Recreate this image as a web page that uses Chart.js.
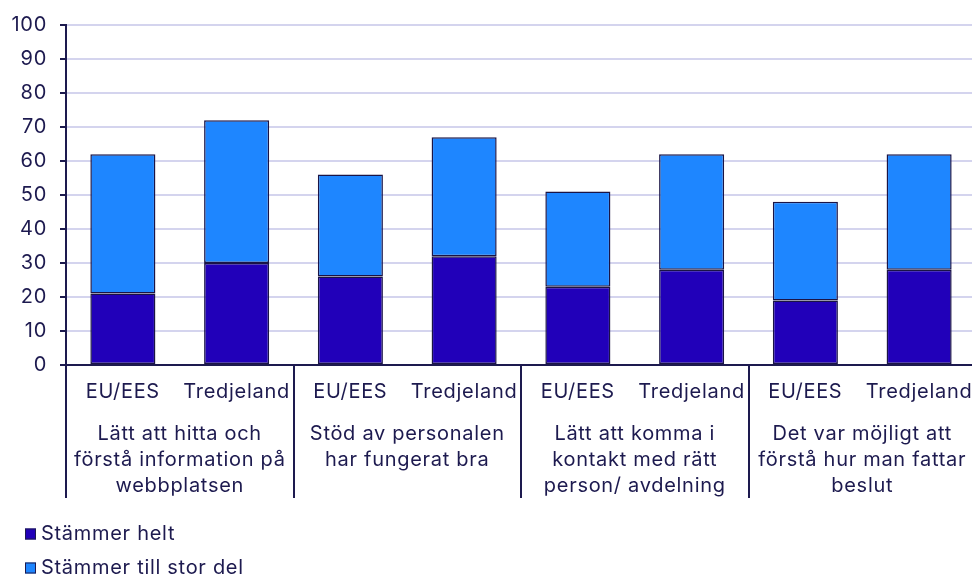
<!DOCTYPE html>
<html>
<head>
<meta charset="utf-8">
<script src="https://cdn.jsdelivr.net/npm/chart.js@4"></script>
<style>
  html, body { margin: 0; padding: 0; background: #fff; overflow: hidden; }
  #wrap { position: relative; width: 976px; height: 576px; }
</style>
</head>
<body>
<div id="wrap"><canvas id="chart"></canvas></div>
<script>
// data
const categories = ['EU/EES', 'Tredjeland', 'EU/EES', 'Tredjeland', 'EU/EES', 'Tredjeland', 'EU/EES', 'Tredjeland'];
const groups = [
  ['Lätt att hitta och', 'förstå information på', 'webbplatsen'],
  ['Stöd av personalen', 'har fungerat bra'],
  ['Lätt att komma i', 'kontakt med rätt', 'person/ avdelning'],
  ['Det var möjligt att', 'förstå hur man fattar', 'beslut']
];
const stammerHelt = [21, 30, 26, 32, 23, 28, 19, 28];
const stammerStorDel = [41, 42, 30, 35, 28, 34, 29, 34];
const yTicks = [0, 10, 20, 30, 40, 50, 60, 70, 80, 90, 100];

const textColor = '#1d1a4f';
const axisColor = '#1d1a4f';
const font = 'Inter';
const fontSize = 20;
const spacing = '0.7px';

Chart.defaults.font.family = font;
Chart.defaults.font.size = fontSize;
Chart.defaults.color = textColor;

// group labels, separators and legend
const extras = {
  id: 'extras',
  beforeDraw(chart) {
    chart.ctx.letterSpacing = spacing;
  },
  afterDraw(chart) {
    const c = chart.ctx;
    const x = chart.scales.x;
    const area = chart.chartArea;
    c.save();
    c.letterSpacing = spacing;
    c.strokeStyle = axisColor;
    c.lineWidth = 2;
    c.fillStyle = textColor;
    c.font = fontSize + 'px ' + font;
    c.textAlign = 'center';
    c.textBaseline = 'middle';
    groups.forEach((lines, g) => {
      const i = g * 2;
      const left = i === 0 ? area.left : (x.getPixelForValue(i - 1) + x.getPixelForValue(i)) / 2;
      c.beginPath();
      c.moveTo(Math.round(left), area.bottom);
      c.lineTo(Math.round(left), 498);
      c.stroke();
      const cx = (x.getPixelForValue(i) + x.getPixelForValue(i + 1)) / 2;
      lines.forEach((t, k) => c.fillText(t, cx, 434 + k * 26));
    });
    // legend
    c.textAlign = 'left';
    chart.data.datasets.forEach((ds, k) => {
      const y = 534 + k * 34;
      c.fillStyle = ds.backgroundColor;
      c.fillRect(25, y - 5.5, 11, 11);
      c.lineWidth = 1;
      c.strokeStyle = axisColor;
      c.strokeRect(25.5, y - 5, 10, 10);
      c.fillStyle = textColor;
      c.fillText(ds.label, 41, y);
    });
    c.restore();
  }
};

new Chart(document.getElementById('chart'), {
  type: 'bar',
  data: {
    labels: categories,
    datasets: [
      {
        label: 'Stämmer helt',
        data: stammerHelt,
        backgroundColor: '#2100b9',
        borderColor: '#1a1446',
        borderWidth: 1.5,
        borderSkipped: false
      },
      {
        label: 'Stämmer till stor del',
        data: stammerStorDel,
        backgroundColor: '#1e86ff',
        borderColor: '#1a1446',
        borderWidth: 1.5,
        borderSkipped: false
      }
    ]
  },
  options: {
    responsive: true,
    maintainAspectRatio: false,
    animation: false,
    layout: { padding: { top: 25, right: 0, bottom: 0, left: 0 } },
    plugins: { legend: { display: false }, tooltip: { enabled: false } },
    datasets: { bar: { categoryPercentage: 1, barPercentage: 0.572 } },
    scales: {
      x: {
        stacked: true,
        grid: { display: false, drawTicks: false },
        border: { display: true, color: axisColor, width: 2 },
        ticks: { color: textColor, padding: 15, maxRotation: 0, autoSkip: false },
        afterFit(scale) {
          scale.height = 211;
          scale.paddingLeft = 0;
          scale.paddingRight = 0;
        }
      },
      y: {
        stacked: true,
        min: yTicks[0],
        max: yTicks[yTicks.length - 1],
        afterBuildTicks(scale) { scale.ticks = yTicks.map(v => ({ value: v })); },
        grid: { color: '#d4d4ee', lineWidth: 2, tickColor: axisColor, tickLength: 6 },
        border: { display: true, color: axisColor, width: 2 },
        ticks: { color: textColor, padding: 13 },
        afterFit(scale) {
          scale.width = 66;
          scale.paddingTop = 0;
          scale.paddingBottom = 0;
        }
      }
    }
  },
  plugins: [extras]
});
</script>
</body>
</html>
